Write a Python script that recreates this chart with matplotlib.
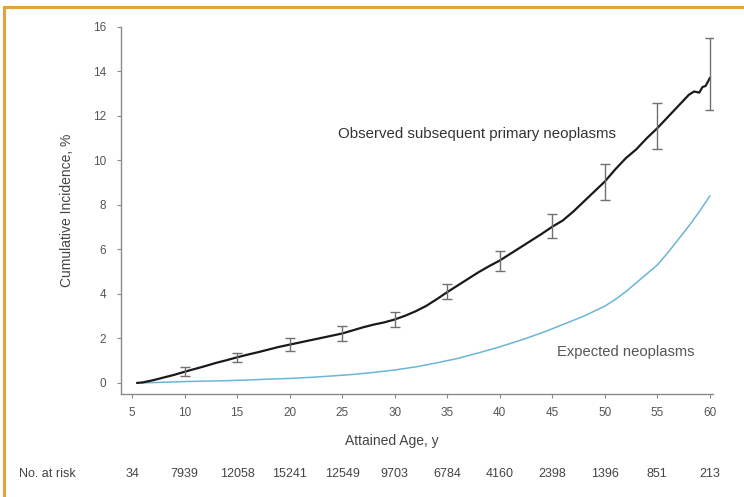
import matplotlib
matplotlib.use("Agg")
import matplotlib.pyplot as plt
from matplotlib.lines import Line2D
from matplotlib.transforms import blended_transform_factory

plt.rcParams['font.family'] = ['Liberation Sans', 'DejaVu Sans']

# Observed cumulative incidence, %
obs_age = [5.5, 6, 7, 8, 9, 10, 11, 12, 13, 14, 15, 16, 17, 18, 19, 20, 21, 22, 23, 24,
           25, 26, 27, 28, 29, 30, 31, 32, 33, 34, 35, 36, 37, 38, 39, 40, 41, 42, 43, 44,
           45, 46, 47, 48, 49, 50, 51, 52, 53, 54, 55, 56, 57, 58, 58.5, 59, 59.3, 59.6, 60]
obs_val = [0.0, 0.02, 0.12, 0.24, 0.36, 0.5, 0.63, 0.76, 0.9, 1.02, 1.15, 1.27, 1.38, 1.5,
           1.62, 1.72, 1.82, 1.92, 2.02, 2.12, 2.22, 2.36, 2.5, 2.62, 2.72, 2.85, 3.02, 3.22,
           3.46, 3.76, 4.08, 4.38, 4.68, 4.98, 5.25, 5.5, 5.8, 6.1, 6.4, 6.7, 7.02, 7.3, 7.7,
           8.15, 8.6, 9.05, 9.6, 10.1, 10.5, 11.0, 11.45, 11.95, 12.45, 12.95, 13.1, 13.05,
           13.3, 13.35, 13.7]

# Error bars at 5-year ages
err_age = [10, 15, 20, 25, 30, 35, 40, 45, 50, 55, 60]
err_mid = [0.5, 1.15, 1.72, 2.22, 2.85, 4.08, 5.5, 7.02, 9.05, 11.45, 13.7]
err_low = [0.3, 0.95, 1.45, 1.9, 2.5, 3.75, 5.05, 6.5, 8.2, 10.5, 12.25]
err_high = [0.7, 1.35, 2.0, 2.55, 3.2, 4.45, 5.95, 7.6, 9.85, 12.6, 15.5]

# Expected cumulative incidence, %
exp_age = [6, 8, 10, 12, 14, 16, 18, 20, 22, 24, 26, 28, 30, 32, 34, 36, 38, 40, 42, 44,
           46, 48, 50, 51, 52, 53, 54, 55, 56, 57, 58, 59, 60]
exp_val = [0.0, 0.03, 0.06, 0.08, 0.1, 0.13, 0.17, 0.2, 0.25, 0.31, 0.38, 0.47, 0.58, 0.72,
           0.9, 1.1, 1.35, 1.62, 1.92, 2.25, 2.62, 3.0, 3.45, 3.75, 4.1, 4.5, 4.9, 5.3, 5.85,
           6.45, 7.05, 7.7, 8.4]

xticks = [5, 10, 15, 20, 25, 30, 35, 40, 45, 50, 55, 60]
yticks = [0, 2, 4, 6, 8, 10, 12, 14, 16]
at_risk = ['34', '7939', '12058', '15241', '12549', '9703', '6784', '4160',
           '2398', '1396', '851', '213']

fig = plt.figure(figsize=(7.44, 4.97), dpi=100)
ax = fig.add_axes([0.1633, 0.2072, 0.795, 0.7385])

ax.plot(exp_age, exp_val, color='#6ab6d6', lw=1.1)
ax.plot(obs_age, obs_val, color='#1a1a1a', lw=1.6)
yerr = [[m - l for m, l in zip(err_mid, err_low)], [h - m for m, h in zip(err_mid, err_high)]]
ax.errorbar(err_age, err_mid, yerr=yerr, fmt='none', ecolor='#707070',
            elinewidth=1.0, capsize=3.5, capthick=1.0)

ax.set_xlim(4, 60.3)
ax.set_ylim(-0.5, 16)
ax.set_xticks(xticks)
ax.set_yticks(yticks)
ax.set_xticklabels([str(t) for t in xticks])
ax.set_yticklabels([str(t) for t in yticks])
for s in ['top', 'right']:
    ax.spines[s].set_visible(False)
for s in ['left', 'bottom']:
    ax.spines[s].set_color('#8a8a8a')
    ax.spines[s].set_linewidth(1.0)
ax.tick_params(axis='both', colors='#8a8a8a', labelcolor='#555555', labelsize=8.5,
               length=3, width=0.8, direction='out')
ax.tick_params(axis='y', pad=8)
ax.tick_params(axis='x', pad=6)

ax.set_ylabel('Cumulative Incidence, %', fontsize=10, color='#444444', labelpad=14)

ax.text(24.6, 11.2, 'Observed subsequent primary neoplasms', fontsize=10.8,
        color='#333333', ha='left', va='center')
ax.text(45.5, 1.4, 'Expected neoplasms', fontsize=10.6, color='#555555',
        ha='left', va='center')

fig.text(0.527, 0.113, 'Attained Age, y', fontsize=10, color='#444444',
         ha='center', va='center')

trans = blended_transform_factory(ax.transData, fig.transFigure)
fig.text(0.026, 0.046, 'No. at risk', fontsize=9, color='#444444', ha='left', va='center')
for a, n in zip(xticks, at_risk):
    ax.text(a, 0.046, n, transform=trans, fontsize=9, color='#444444',
            ha='center', va='center', clip_on=False)

# Orange frame (top and left edges)
fig.add_artist(Line2D([0.0055, 1.0], [1 - 7 / 497, 1 - 7 / 497], transform=fig.transFigure,
                      color='#e8a03c', lw=2.2))
fig.add_artist(Line2D([0.0055, 0.0055], [0.0, 1 - 7 / 497], transform=fig.transFigure,
                      color='#e8a03c', lw=2.2))

fig.savefig('out.png', dpi=100)
